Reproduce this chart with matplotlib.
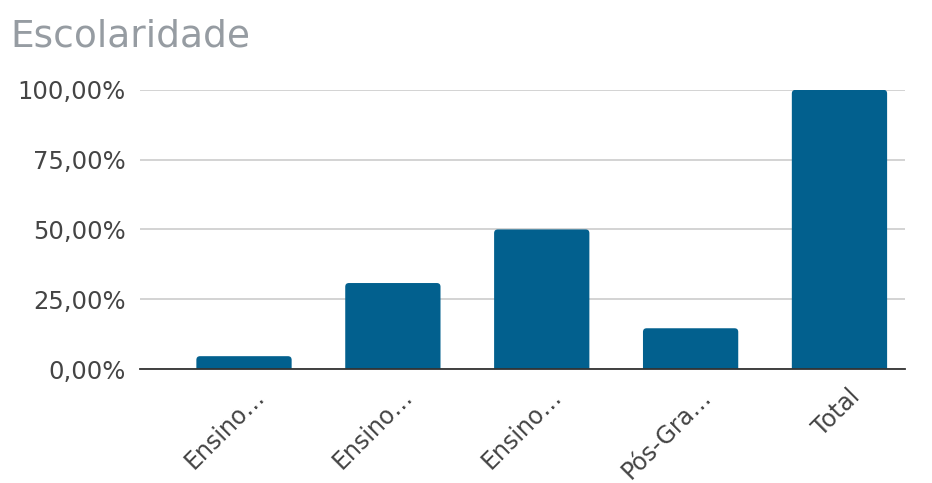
import matplotlib.pyplot as plt
from matplotlib.patches import FancyBboxPatch
from matplotlib.ticker import FuncFormatter
from matplotlib.transforms import ScaledTranslation

plt.rcParams['font.family'] = ['DejaVu Sans']

# dados
categorias = ['Ensino…', 'Ensino…', 'Ensino…', 'Pós-Gra…', 'Total']
valores = [4.6, 30.8, 50.0, 14.6, 100.0]
ticks_y = [0, 25, 50, 75, 100]

fig = plt.figure(figsize=(9.32, 4.83), dpi=100)
ax = fig.add_axes([0.150, 0.236, 0.821, 0.578])

x = list(range(len(categorias)))
barras = ax.bar(x, valores, width=0.64, color='#02608E', zorder=3)

ax.set_xlim(-0.70, 4.44)
ax.set_ylim(0, 100)

# cantos arredondados no topo das barras
for r in barras:
    r.set_visible(False)
    p = FancyBboxPatch((r.get_x(), -3), r.get_width(), r.get_height() + 3,
                       boxstyle='round,pad=0,rounding_size=0.025',
                       mutation_aspect=53, fc='#02608E', ec='none', zorder=3)
    ax.add_patch(p)

ax.set_yticks(ticks_y)
ax.yaxis.set_major_formatter(FuncFormatter(lambda v, p: f'{v:.2f}'.replace('.', ',') + '%'))
ax.grid(axis='y', color='#cccccc', lw=1.2, zorder=0)

for s in ['top', 'right', 'left']:
    ax.spines[s].set_visible(False)
ax.spines['bottom'].set_color('#333333')
ax.spines['bottom'].set_linewidth(1.3)
ax.spines['bottom'].set_zorder(4)

ax.tick_params(axis='y', length=0, labelsize=17.5, labelcolor='#444444', pad=10)
ax.tick_params(axis='x', length=0, labelsize=17, labelcolor='#444444', pad=11)
ax.set_xticks(x)
ax.set_xticklabels(categorias, rotation=45, ha='right', rotation_mode='anchor')
desloc = ScaledTranslation(8 / 100, 0, fig.dpi_scale_trans)
for lbl in ax.get_xticklabels():
    lbl.set_transform(lbl.get_transform() + desloc)

fig.text(0.011, 0.925, 'Escolaridade', fontsize=27, color='#969ca2', va='center')

fig.savefig('out.png', dpi=100)
